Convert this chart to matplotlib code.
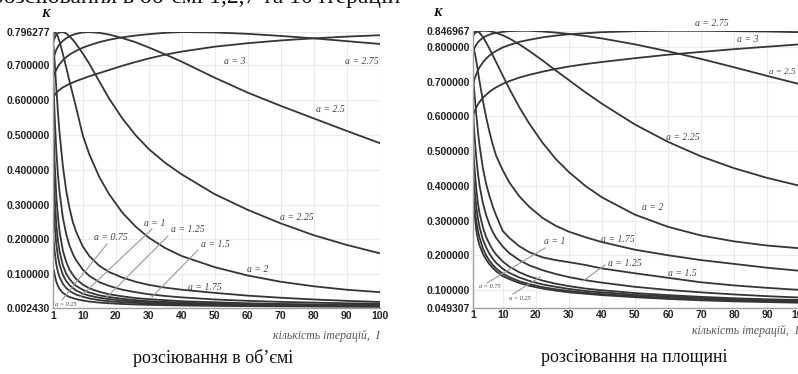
import matplotlib
matplotlib.use("Agg")
import matplotlib.pyplot as plt

# iteration points used for every curve
I = [1, 1.25, 1.5, 2, 2.5, 3, 4, 5, 6, 7, 8, 10, 12, 15, 18, 22, 26, 30, 35, 40, 50, 60, 70, 80, 90, 100]

# scattering in volume (left)
vol_3 = [0.607, 0.611, 0.615, 0.621, 0.626, 0.630, 0.637, 0.642, 0.647, 0.651, 0.655, 0.662, 0.669, 0.678, 0.687, 0.699, 0.710, 0.720, 0.731, 0.740, 0.754, 0.764, 0.772, 0.778, 0.783, 0.787]
vol_275 = [0.662, 0.670, 0.677, 0.688, 0.697, 0.704, 0.715, 0.724, 0.731, 0.737, 0.742, 0.751, 0.758, 0.767, 0.774, 0.781, 0.786, 0.790, 0.794, 0.796, 0.795, 0.791, 0.785, 0.778, 0.770, 0.762]
vol_25 = [0.714, 0.724, 0.732, 0.745, 0.754, 0.761, 0.771, 0.778, 0.784, 0.788, 0.791, 0.795, 0.796, 0.794, 0.789, 0.779, 0.767, 0.752, 0.732, 0.711, 0.665, 0.622, 0.584, 0.548, 0.512, 0.477]
vol_225 = [0.762, 0.772, 0.779, 0.788, 0.793, 0.795, 0.796, 0.792, 0.784, 0.774, 0.762, 0.735, 0.705, 0.655, 0.605, 0.548, 0.500, 0.460, 0.420, 0.387, 0.330, 0.285, 0.246, 0.212, 0.184, 0.160]
vol_2 = [0.775, 0.788, 0.794, 0.793, 0.783, 0.768, 0.733, 0.695, 0.655, 0.617, 0.580, 0.500, 0.445, 0.380, 0.330, 0.277, 0.237, 0.205, 0.175, 0.152, 0.120, 0.096, 0.078, 0.065, 0.055, 0.048]
vol_175 = [0.770, 0.745, 0.710, 0.635, 0.565, 0.505, 0.410, 0.340, 0.290, 0.250, 0.222, 0.180, 0.152, 0.124, 0.106, 0.090, 0.078, 0.069, 0.061, 0.055, 0.046, 0.038, 0.032, 0.027, 0.023, 0.020]
vol_15 = [0.690, 0.620, 0.555, 0.455, 0.385, 0.335, 0.262, 0.215, 0.182, 0.158, 0.140, 0.113, 0.095, 0.077, 0.066, 0.055, 0.048, 0.042, 0.037, 0.033, 0.027, 0.023, 0.020, 0.018, 0.016, 0.015]
vol_125 = [0.580, 0.490, 0.420, 0.325, 0.265, 0.222, 0.167, 0.135, 0.113, 0.098, 0.086, 0.070, 0.059, 0.049, 0.042, 0.036, 0.031, 0.028, 0.025, 0.022, 0.019, 0.016, 0.014, 0.013, 0.012, 0.011]
vol_1 = [0.460, 0.380, 0.320, 0.242, 0.196, 0.165, 0.125, 0.101, 0.086, 0.075, 0.066, 0.055, 0.047, 0.039, 0.034, 0.029, 0.025, 0.022, 0.020, 0.018, 0.015, 0.013, 0.012, 0.011, 0.010, 0.0095]
vol_075 = [0.340, 0.285, 0.243, 0.185, 0.150, 0.127, 0.098, 0.080, 0.068, 0.060, 0.053, 0.044, 0.038, 0.032, 0.028, 0.024, 0.021, 0.019, 0.017, 0.015, 0.013, 0.011, 0.0097, 0.0088, 0.0082, 0.0077]
vol_05 = [0.220, 0.190, 0.165, 0.128, 0.106, 0.091, 0.072, 0.060, 0.052, 0.046, 0.041, 0.035, 0.030, 0.025, 0.022, 0.019, 0.017, 0.015, 0.0135, 0.012, 0.0105, 0.0093, 0.0084, 0.0077, 0.0071, 0.0066]
vol_025 = [0.115, 0.112, 0.098, 0.078, 0.066, 0.057, 0.046, 0.039, 0.034, 0.031, 0.028, 0.024, 0.021, 0.018, 0.016, 0.014, 0.0125, 0.0115, 0.0105, 0.0097, 0.0086, 0.0078, 0.0072, 0.0067, 0.0062, 0.0059]

# scattering on a plane (right)
pl_3 = [0.600, 0.608, 0.615, 0.626, 0.635, 0.642, 0.654, 0.663, 0.671, 0.678, 0.684, 0.694, 0.702, 0.712, 0.720, 0.729, 0.737, 0.744, 0.751, 0.757, 0.768, 0.778, 0.786, 0.794, 0.801, 0.808]
pl_275 = [0.690, 0.700, 0.709, 0.722, 0.733, 0.742, 0.756, 0.767, 0.776, 0.783, 0.789, 0.799, 0.806, 0.815, 0.821, 0.828, 0.833, 0.837, 0.840, 0.843, 0.846, 0.847, 0.847, 0.846, 0.845, 0.843]
pl_25 = [0.783, 0.791, 0.798, 0.807, 0.814, 0.819, 0.827, 0.832, 0.836, 0.839, 0.841, 0.844, 0.846, 0.847, 0.847, 0.845, 0.842, 0.838, 0.832, 0.825, 0.808, 0.788, 0.766, 0.742, 0.717, 0.693]
pl_225 = [0.832, 0.836, 0.839, 0.843, 0.845, 0.846, 0.847, 0.847, 0.846, 0.844, 0.841, 0.834, 0.825, 0.808, 0.789, 0.762, 0.733, 0.705, 0.670, 0.637, 0.577, 0.527, 0.485, 0.451, 0.423, 0.400]
pl_2 = [0.828, 0.838, 0.844, 0.847, 0.845, 0.841, 0.829, 0.813, 0.795, 0.776, 0.757, 0.718, 0.680, 0.627, 0.580, 0.525, 0.478, 0.440, 0.400, 0.367, 0.317, 0.282, 0.257, 0.240, 0.228, 0.220]
pl_175 = [0.800, 0.795, 0.785, 0.760, 0.730, 0.700, 0.645, 0.597, 0.555, 0.518, 0.487, 0.445, 0.410, 0.370, 0.340, 0.308, 0.285, 0.268, 0.252, 0.238, 0.216, 0.200, 0.186, 0.175, 0.164, 0.155]
pl_15 = [0.720, 0.690, 0.660, 0.605, 0.555, 0.515, 0.450, 0.405, 0.370, 0.340, 0.315, 0.270, 0.250, 0.226, 0.209, 0.194, 0.186, 0.180, 0.172, 0.162, 0.148, 0.135, 0.122, 0.113, 0.106, 0.100]
pl_125 = [0.620, 0.575, 0.540, 0.480, 0.435, 0.400, 0.350, 0.315, 0.288, 0.267, 0.250, 0.225, 0.206, 0.186, 0.171, 0.157, 0.146, 0.137, 0.128, 0.121, 0.109, 0.100, 0.093, 0.087, 0.082, 0.078]
pl_1 = [0.520, 0.480, 0.445, 0.390, 0.350, 0.320, 0.280, 0.252, 0.232, 0.215, 0.202, 0.182, 0.167, 0.151, 0.139, 0.127, 0.118, 0.111, 0.104, 0.099, 0.091, 0.085, 0.080, 0.076, 0.073, 0.071]
pl_075 = [0.450, 0.415, 0.385, 0.340, 0.305, 0.280, 0.245, 0.222, 0.204, 0.190, 0.178, 0.161, 0.149, 0.136, 0.126, 0.116, 0.109, 0.103, 0.097, 0.093, 0.086, 0.081, 0.077, 0.073, 0.070, 0.068]
pl_05 = [0.390, 0.360, 0.336, 0.297, 0.270, 0.250, 0.220, 0.199, 0.184, 0.172, 0.162, 0.147, 0.137, 0.125, 0.117, 0.108, 0.102, 0.097, 0.092, 0.088, 0.082, 0.077, 0.073, 0.070, 0.067, 0.065]
pl_025 = [0.345, 0.343, 0.315, 0.272, 0.245, 0.228, 0.204, 0.187, 0.174, 0.163, 0.154, 0.140, 0.131, 0.120, 0.112, 0.104, 0.098, 0.093, 0.089, 0.085, 0.079, 0.074, 0.070, 0.067, 0.065, 0.063]

vol_curves = [vol_3, vol_275, vol_25, vol_225, vol_2, vol_175, vol_15, vol_125, vol_1, vol_075, vol_05, vol_025]
pl_curves = [pl_3, pl_275, pl_25, pl_225, pl_2, pl_175, pl_15, pl_125, pl_1, pl_075, pl_05, pl_025]

x_ticks = [1, 10, 20, 30, 40, 50, 60, 70, 80, 90, 100]
vol_ylim = (0.002430, 0.796277)
pl_ylim = (0.049307, 0.846967)

W, H = 798, 374
fig = plt.figure(figsize=(W / 100, H / 100), dpi=100)

def px_axes(x0, x1, ytop, ybot):
    return fig.add_axes([x0 / W, 1 - ybot / H, (x1 - x0) / W, (ybot - ytop) / H])

ax1 = px_axes(53, 379.5, 32, 308)
ax2 = px_axes(473, 800, 30.8, 307.5)

line_col = "#353535"
lab_font = dict(family="Liberation Serif", style="italic", color="#444444")

def setup(ax, ylim):
    lo, hi = ylim
    ticks = [lo, 0.1, 0.2, 0.3, 0.4, 0.5, 0.6, 0.7]
    if hi > 0.82:
        ticks.append(0.8)
    ticks.append(hi)
    ax.set_xlim(1, 100)
    ax.set_ylim(lo, hi)
    ax.set_xticks(x_ticks)
    ax.set_yticks(ticks)
    ax.set_yticklabels(["%.6f" % t for t in ticks])
    ax.tick_params(length=0, pad=2, labelsize=7.5, colors="#222222")
    for lbl in ax.get_xticklabels() + ax.get_yticklabels():
        lbl.set_fontweight("bold")
        lbl.set_family("Liberation Sans")
    ax.grid(True, color="#ebebeb", lw=0.8)
    ax.set_axisbelow(True)
    for s in ["top", "right"]:
        ax.spines[s].set_visible(False)
    for s in ["left", "bottom"]:
        ax.spines[s].set_color("#a0a0a0")
        ax.spines[s].set_linewidth(1.0)

setup(ax1, vol_ylim)
setup(ax2, pl_ylim)

for ys in vol_curves:
    ax1.plot(I, ys, color=line_col, lw=1.3, solid_joinstyle="round")
for ys in pl_curves:
    ax2.plot(I, ys, color=line_col, lw=1.3, solid_joinstyle="round")

def pxlabel(x, y, s, size=7, **kw):
    fig.text(x / W, 1 - y / H, s, fontsize=size, ha="center", va="center", **lab_font, **kw)

def leader(x0, y0, x1, y1):
    fig.add_artist(plt.Line2D([x0 / W, x1 / W], [1 - y0 / H, 1 - y1 / H], color="#9a9a9a", lw=0.8))

# left panel labels
pxlabel(235, 62, "a = 3")
pxlabel(362, 62, "a = 2.75")
pxlabel(330, 110, "a = 2.5")
pxlabel(297, 217, "a = 2.25")
pxlabel(258, 269, "a = 2")
pxlabel(205, 287, "a = 1.75")
pxlabel(215, 244, "a = 1.5")
pxlabel(188, 229, "a = 1.25")
pxlabel(155, 223, "a = 1")
pxlabel(111, 238, "a = 0.75")
pxlabel(66, 304, "a = 0.25", size=4.5)
leader(107, 244, 62, 300)
leader(152, 229, 80, 297)
leader(168, 236, 107, 297)
leader(198, 250, 152, 297)

# right panel labels
pxlabel(712, 23, "a = 2.75")
pxlabel(748, 40, "a = 3")
pxlabel(782, 72, "a = 2.5", size=6.5)
pxlabel(683, 138, "a = 2.25")
pxlabel(653, 207, "a = 2")
pxlabel(618, 240, "a = 1.75")
pxlabel(625, 263, "a = 1.25")
pxlabel(682, 274, "a = 1.5")
pxlabel(555, 242, "a = 1")
pxlabel(490, 286, "a = 0.75", size=4.5)
pxlabel(520, 298, "a = 0.25", size=4.5)
leader(545, 248, 487, 283)
leader(513, 294, 540, 277)
leader(605, 265, 583, 281)

# axis names
k_font = dict(family="Liberation Serif", style="italic", weight="bold", fontsize=9, ha="center", va="center")
fig.text(45 / W, 1 - 14 / H, "K", **k_font)
fig.text(437 / W, 1 - 13 / H, "K", **k_font)
xl_font = dict(family="Liberation Serif", style="italic", fontsize=8.5, color="#555555", ha="right", va="center")
fig.text(380 / W, 1 - 336 / H, "кількість ітерацій,  I", **xl_font)
fig.text(799 / W, 1 - 331 / H, "кількість ітерацій,  I", **xl_font)

cap_font = dict(family="Liberation Serif", fontsize=13, ha="center", va="center", color="#111111")
fig.text(213 / W, 1 - 358 / H, "розсіювання в об’ємі", **cap_font)
fig.text(634 / W, 1 - 357 / H, "розсіювання на площині", **cap_font)

# top line of the page, cut by the crop
fig.text(400 / W, 1 - 2.5 / H, "розсіювання в об’ємі 1,2,7 та 10 ітерацій", family="Liberation Serif",
         fontsize=17, ha="right", va="baseline", color="#111111")

fig.savefig("out.png", dpi=100)
